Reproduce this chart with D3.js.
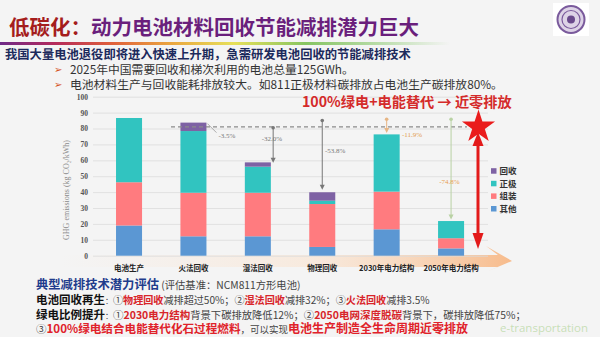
<!DOCTYPE html>
<html><head><meta charset="utf-8">
<script src="https://cdn.jsdelivr.net/npm/d3@7"></script>
<style>
html,body{margin:0;padding:0;background:#f4f4f4;}
svg{display:block;}
</style></head>
<body>
<svg id="chart" width="600" height="337"></svg>
<script>
// ---------- data ----------
const categories = ["电池生产","火法回收","湿法回收","物理回收","2030年电力结构","2050年电力结构"];
const seriesNames = ["其他","组装","正极","回收"];
const other    = [19.0, 12.2, 12.2, 5.5, 16.6, 4.6];
const assembly = [27.2, 27.4, 27.4, 27.0, 23.7, 6.4];
const cathode  = [40.4, 38.8, 16.4, 2.1, 36.0, 10.8];
const recycle  = [0, 5.3, 2.7, 5.3, 0, 0];
const yTicks = [0,10,20,30,40,50,60,70,80,90,100];
const baselineValue = 81;
const reductionLabels = ["", "-3.5%", "-32.0%", "-53.8%", "-11.9%", "-74.8%"];
const arrowFrom = [null, null, 80.5, 85, 85.8, 85.8];
const arrowTo   = [null, null, 58.5, 41.5, 77.2, 22.8];

const colors = {"其他":"#5b97d3","组装":"#ff7b7f","正极":"#31c4c0","回收":"#7e62a4"};

const svg = d3.select("#chart");
const defs = svg.append("defs");
const CJK = "'Noto Sans CJK SC','Noto Sans',sans-serif";
const SERIF = "'Liberation Serif','DejaVu Serif',serif";

// ---------- header ----------
const g1 = defs.append("linearGradient").attr("id","rainbow").attr("x1","0").attr("x2","1");
[["0%","#6e2a88"],["12%","#b42a5c"],["25%","#e0603a"],["38%","#eaa640"],["52%","#e6e05a"],["68%","#86c462"],["84%","#b8dca8"],["100%","#f4f4f4"]]
  .forEach(s=>g1.append("stop").attr("offset",s[0]).attr("stop-color",s[1]));
svg.append("rect").attr("x",0).attr("y",42).attr("width",450).attr("height",3).attr("fill","url(#rainbow)");

const title = svg.append("text").attr("x",9).attr("y",35).attr("font-family",CJK).attr("font-weight",700).attr("font-size",20.5);
title.append("tspan").attr("fill","#a51d1d").text("低碳化：");
title.append("tspan").attr("fill","#6a1f7c").text("动力电池材料回收节能减排潜力巨大");

// logo
svg.append("rect").attr("x",553).attr("y",3).attr("width",36).attr("height",33).attr("fill","#ffffff");
svg.append("circle").attr("cx",571).attr("cy",19.5).attr("r",13.5).attr("fill","#ddd3e6").attr("stroke","#7a5a9c").attr("stroke-width",2);
svg.append("circle").attr("cx",571).attr("cy",19.5).attr("r",9).attr("fill","none").attr("stroke","#7a5a9c").attr("stroke-width",1.2);
svg.append("circle").attr("cx",571).attr("cy",19.5).attr("r",4).attr("fill","#6a4a8c");

svg.append("text").attr("x",5).attr("y",58.5).attr("font-family",CJK).attr("font-weight",700).attr("font-size",12.3)
  .attr("fill","#1c2a5c").text("我国大量电池退役即将进入快速上升期，急需研发电池回收的节能减排技术");
const bullets = ["2025年中国需要回收和梯次利用的电池总量125GWh。","电池材料生产与回收能耗排放较大。如811正极材料碳排放占电池生产碳排放80%。"];
bullets.forEach((b,i)=>{
  svg.append("text").attr("x",54).attr("y",73+i*15.3).attr("font-family","'DejaVu Sans',sans-serif").attr("font-size",10).attr("fill","#d4521c").text("➢");
  svg.append("text").attr("x",70).attr("y",73.5+i*15.3).attr("font-family",CJK).attr("font-size",11.8).attr("fill","#333").text(b);
});

// ---------- chart ----------
const y = d3.scaleLinear().domain([0,100]).range([255.7,96.7]);
const x = d3.scaleBand().domain(categories).range([96.7,483.4]).paddingInner(0.596).paddingOuter(0.3);

// bottom orange arrow band
const g2 = defs.append("linearGradient").attr("id","band").attr("x1","0").attr("x2","1");
g2.append("stop").attr("offset","0%").attr("stop-color","#fbe3cf").attr("stop-opacity",0);
g2.append("stop").attr("offset","55%").attr("stop-color","#fbe0c8").attr("stop-opacity",0.5);
g2.append("stop").attr("offset","100%").attr("stop-color","#f7b886").attr("stop-opacity",0.95);
svg.append("path").attr("d","M60,255 L498,255 L486,246 L512,261 L486,272 L498,267 L60,267 Z").attr("fill","url(#band)");

const yAxis = d3.axisLeft(y).tickValues(yTicks).tickSize(-395).tickPadding(5).tickFormat(d3.format("d"));
const ax = svg.append("g").attr("transform","translate(93,0)").call(yAxis);
ax.select(".domain").remove();
ax.selectAll(".tick line").attr("stroke","#dcdcdc").attr("stroke-width",0.8);
ax.selectAll(".tick text").attr("font-family",SERIF).attr("font-weight",700).attr("font-size",7.5).attr("fill","#555");

svg.append("text").attr("transform","translate(69,190) rotate(-90)").attr("text-anchor","middle")
  .attr("font-family",SERIF).attr("font-size",8).attr("fill","#8a8a8a").text("GHG emissions (kg CO₂/kWh)");

const rows = categories.map((c,i)=>({cat:c,"其他":other[i],"组装":assembly[i],"正极":cathode[i],"回收":recycle[i]}));
const stacked = d3.stack().keys(seriesNames)(rows);
svg.append("g").selectAll("g").data(stacked).join("g").attr("fill",d=>colors[d.key])
  .selectAll("rect").data(d=>d).join("rect")
  .attr("x",d=>x(d.data.cat)).attr("width",x.bandwidth())
  .attr("y",d=>y(d[1])).attr("height",d=>Math.max(0,y(d[0])-y(d[1])));

// x labels
svg.append("g").selectAll("text").data(categories).join("text")
  .attr("x",d=>x(d)+x.bandwidth()/2).attr("y",271).attr("text-anchor","middle")
  .attr("font-family",CJK).attr("font-weight",700).attr("font-size",7.5).attr("fill","#222").text(d=>d);

// baseline dashed
svg.append("line").attr("x1",171).attr("x2",467).attr("y1",y(baselineValue)).attr("y2",y(baselineValue))
  .attr("stroke","#8a8a8a").attr("stroke-width",1.2).attr("stroke-dasharray","4,3");

// annotations
const totals = categories.map((c,i)=>other[i]+assembly[i]+cathode[i]+recycle[i]);
const annColors = [null,"#888","#777","#777","#e6b584","#b9d2a4"];
const labColors = [null,"#777","#777","#777","#e39a4c","#e8a050"];
const b2 = x(categories[1])+x.bandwidth();
svg.append("line").attr("x1",b2+1).attr("y1",y(totals[1])+1).attr("x2",b2+10).attr("y2",y(totals[1])+10)
  .attr("stroke","#999").attr("stroke-width",0.8);
svg.append("text").attr("x",b2+12).attr("y",y(totals[1])+15).attr("font-family",SERIF).attr("font-size",7).attr("fill",labColors[1]).text(reductionLabels[1]);

const arrowX = [null,null,x(categories[2])+x.bandwidth()+2.3,x(categories[3])+x.bandwidth()/2,x(categories[4])+x.bandwidth()/2,x(categories[5])+x.bandwidth()/2];
for(let i=2;i<6;i++){
  const ax0=arrowX[i], yt=y(arrowFrom[i]), yb=y(arrowTo[i]);
  svg.append("line").attr("x1",ax0).attr("x2",ax0).attr("y1",yt).attr("y2",yb-3).attr("stroke",annColors[i]).attr("stroke-width",1);
  svg.append("circle").attr("cx",ax0).attr("cy",yt).attr("r",1.8).attr("fill",annColors[i]);
  svg.append("path").attr("d",`M${ax0-2.5},${yb-5} L${ax0+2.5},${yb-5} L${ax0},${yb} Z`).attr("fill",annColors[i]);
}
const labPos = [null,null,[272,140.5,"middle"],[325,152.5,"start"],[402,137,"start"],[449.5,184,"middle"]];
for(let i=2;i<6;i++){
  svg.append("text").attr("x",labPos[i][0]).attr("y",labPos[i][1]).attr("text-anchor",labPos[i][2])
    .attr("font-family",SERIF).attr("font-size",7).attr("fill",labColors[i]).text(reductionLabels[i]);
}

// red double arrow + star
svg.append("line").attr("x1",478).attr("x2",478).attr("y1",140).attr("y2",236).attr("stroke","#e31a1a").attr("stroke-width",3);
svg.append("path").attr("d","M472.5,233 L483.5,233 L478,249 Z").attr("fill","#e31a1a");
svg.append("path").attr("d","M472.5,146 L483.5,146 L478,132 Z").attr("fill","#e31a1a");
const star = d3.symbol().type(d3.symbolStar).size(340);
svg.append("path").attr("d",star()).attr("transform","translate(478.5,127)").attr("fill","#ea1c1c");

svg.append("text").attr("x",302).attr("y",107).attr("font-family",CJK).attr("font-weight",700).attr("font-size",14.2)
  .attr("fill","#d42a2a").text("100%绿电+电能替代 → 近零排放");

// legend
const legendOrder = ["回收","正极","组装","其他"];
legendOrder.forEach((k,i)=>{
  const yy = 171+i*12.6;
  svg.append("rect").attr("x",491).attr("y",yy-2.8).attr("width",5.5).attr("height",5.5).attr("fill",colors[k]);
  svg.append("text").attr("x",499.5).attr("y",yy+3).attr("font-family",CJK).attr("font-weight",700).attr("font-size",8.5).attr("fill","#333").text(k);
});

// ---------- bottom text ----------
function line(yv, parts, x0){
  const t = svg.append("text").attr("x",x0||36).attr("y",yv).attr("font-family",CJK);
  parts.forEach(p=>t.append("tspan").attr("font-size",p[2]||10.5).attr("font-weight",p[3]||400).attr("fill",p[1]).text(p[0]));
}
line(289,[["典型减排技术潜力评估","#1f3c8c",12.3,700],[" (评估基准：NCM811方形电池)","#444",10.3,400]]);
line(304,[["电池回收再生","#111",11.5,700],["：","#444",8],["①","#444",10.1],["物理回收","#d8252a",10.1,700],["减排超过50%；②","#444",10.1],["湿法回收","#d8252a",10.1,700],["减排32%；③","#444",10.1],["火法回收","#d8252a",10.1,700],["减排3.5%","#444",10.1]]);
line(318.5,[["绿电比例提升","#111",11.5,700],["：","#444",8],["①","#444",10.5],["2030电力结构","#d8252a",10.5,700],["背景下碳排放降低12%；②","#444",10.3],["2050电网深度脱碳","#d8252a",10.5,700],["背景下，碳排放降低75%；","#444",10.3]]);
line(333.3,[["③","#444",10.5],["100%绿电结合电能替代化石过程燃料","#e0222a",11.6,700],["，可以实现","#444",9.5],["电池生产制造全生命周期近零排放","#e0222a",12,700]]);

// watermark
svg.append("text").attr("x",500).attr("y",332).attr("font-family","'Open Sans',sans-serif").attr("font-size",11.5)
  .attr("fill","#a8d08c").attr("fill-opacity",0.6).text("e-transportation");
</script>
</body></html>
